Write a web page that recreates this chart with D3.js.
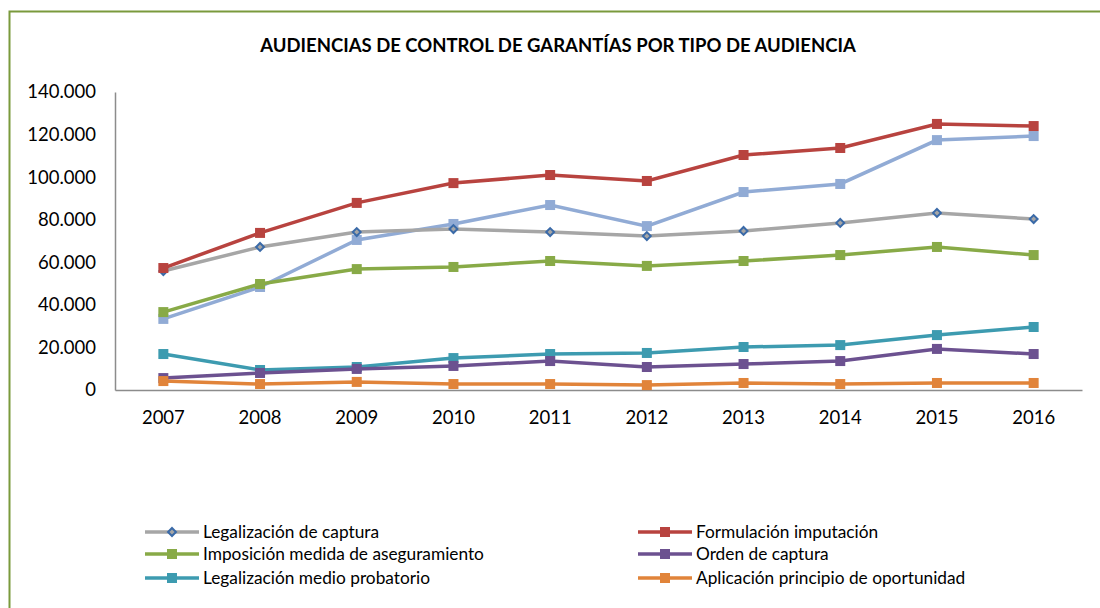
<!DOCTYPE html>
<html>
<head>
<meta charset="utf-8">
<script src="https://cdn.jsdelivr.net/npm/d3@7"></script>
<style>
  body { margin: 0; background: #fff; }
  svg { font-family: Lato, "Open Sans", sans-serif; }
</style>
</head>
<body>
<div id="chart"></div>
<script>
var years = ["2007", "2008", "2009", "2010", "2011", "2012", "2013", "2014", "2015", "2016"];
var yTicks = [0, 20000, 40000, 60000, 80000, 100000, 120000, 140000];

var legalizacionCaptura = [55900, 67200, 74200, 75600, 74200, 72300, 74700, 78500, 83200, 80300];
var formulacionImputacion = [57300, 73800, 87900, 97200, 101000, 98200, 110400, 113700, 125000, 124000];
var sinEtiqueta = [33400, 48400, 70500, 78000, 86900, 77000, 93000, 96800, 117400, 119300];
var imposicionMedida = [36600, 49800, 56800, 57800, 60600, 58300, 60600, 63400, 67200, 63400];
var ordenCaptura = [5600, 8000, 9900, 11300, 13600, 10800, 12200, 13600, 19300, 16900];
var legalizacionMedio = [16900, 9400, 10800, 15000, 16900, 17400, 20200, 21100, 25800, 29600];
var aplicacionPrincipio = [4200, 2800, 3800, 2800, 2800, 2300, 3300, 2800, 3300, 3300];

var series = [
  { name: "Legalización de captura", values: legalizacionCaptura, color: "#a6a6a6", marker: "diamond" },
  { name: "Formulación imputación", values: formulacionImputacion, color: "#b8433f", marker: "square" },
  { name: "Imposición medida de aseguramiento", values: imposicionMedida, color: "#88aa47", marker: "square" },
  { name: "Orden de captura", values: ordenCaptura, color: "#6c5190", marker: "square" },
  { name: "Legalización medio probatorio", values: legalizacionMedio, color: "#3d9bb0", marker: "square" },
  { name: "Aplicación principio de oportunidad", values: aplicacionPrincipio, color: "#e1843a", marker: "square" },
  { name: "", values: sinEtiqueta, color: "#91abd5", marker: "square" }
];
// draw order (last on top)
var drawOrder = [6, 0, 1, 2, 4, 3, 5];

var width = 1100, height = 608;
var svg = d3.select("#chart").append("svg")
    .attr("width", width)
    .attr("height", height);

svg.append("rect")
    .attr("x", 9.5).attr("y", 11.5)
    .attr("width", 1200).attr("height", 700)
    .attr("fill", "none")
    .attr("stroke", "#7a9a3c")
    .attr("stroke-width", 2);

svg.append("text")
    .attr("x", 558).attr("y", 52)
    .attr("text-anchor", "middle")
    .attr("font-weight", "bold")
    .attr("font-size", 18.5)
    .text("AUDIENCIAS DE CONTROL DE GARANTÍAS POR TIPO DE AUDIENCIA");

var x = d3.scaleBand().domain(years).range([115, 1082]);
var y = d3.scaleLinear().domain([0, 140000]).range([390, 92]);

var fmt = function(d) { return d3.format(",")(d).replace(/,/g, "."); };

var yAxis = svg.append("g")
    .attr("transform", "translate(115,0)")
    .call(d3.axisLeft(y).tickValues(yTicks).tickSize(0).tickPadding(19).tickFormat(fmt))
    .attr("font-family", null);
yAxis.select(".domain").attr("stroke", "#8c8c8c").attr("stroke-width", 1.5);
yAxis.selectAll("text").attr("font-size", 18.5).attr("fill", "#000");

var xAxis = svg.append("g")
    .attr("transform", "translate(0,390)")
    .call(d3.axisBottom(x).tickSize(0).tickPadding(21))
    .attr("font-family", null);
xAxis.select(".domain").attr("stroke", "#8c8c8c").attr("stroke-width", 1.5);
xAxis.selectAll("text").attr("font-size", 18.5).attr("fill", "#000");

var line = d3.line()
    .x(function(d, i) { return x(years[i]) + x.bandwidth() / 2; })
    .y(function(d) { return y(d); });

function drawMarker(g, s, cx, cy) {
  if (s.marker === "diamond") {
    g.append("path")
      .attr("d", d3.symbol().type(d3.symbolDiamond2).size(40)())
      .attr("transform", "translate(" + cx + "," + cy + ")")
      .attr("fill", "#a6a6a6")
      .attr("stroke", "#3a6aa8")
      .attr("stroke-width", 2);
  } else {
    g.append("rect")
      .attr("x", cx - 5).attr("y", cy - 5)
      .attr("width", 10).attr("height", 10)
      .attr("fill", s.color);
  }
}

drawOrder.forEach(function(k) {
  var s = series[k];
  var g = svg.append("g");
  g.append("path")
    .attr("d", line(s.values))
    .attr("fill", "none")
    .attr("stroke", s.color)
    .attr("stroke-width", 3.5);
  s.values.forEach(function(v, i) {
    drawMarker(g, s, x(years[i]) + x.bandwidth() / 2, y(v));
  });
});

// legend
var legendPos = [[145, 532], [638, 532], [145, 554], [638, 554], [145, 578], [638, 578]];
series.slice(0, 6).forEach(function(s, i) {
  var lx = legendPos[i][0], ly = legendPos[i][1];
  var g = svg.append("g");
  g.append("line")
    .attr("x1", lx).attr("x2", lx + 54)
    .attr("y1", ly).attr("y2", ly)
    .attr("stroke", s.color)
    .attr("stroke-width", 3.5);
  drawMarker(g, s, lx + 27, ly);
  g.append("text")
    .attr("x", lx + 58).attr("y", ly + 6)
    .attr("font-size", 17.3)
    .text(s.name);
});
</script>
</body>
</html>
